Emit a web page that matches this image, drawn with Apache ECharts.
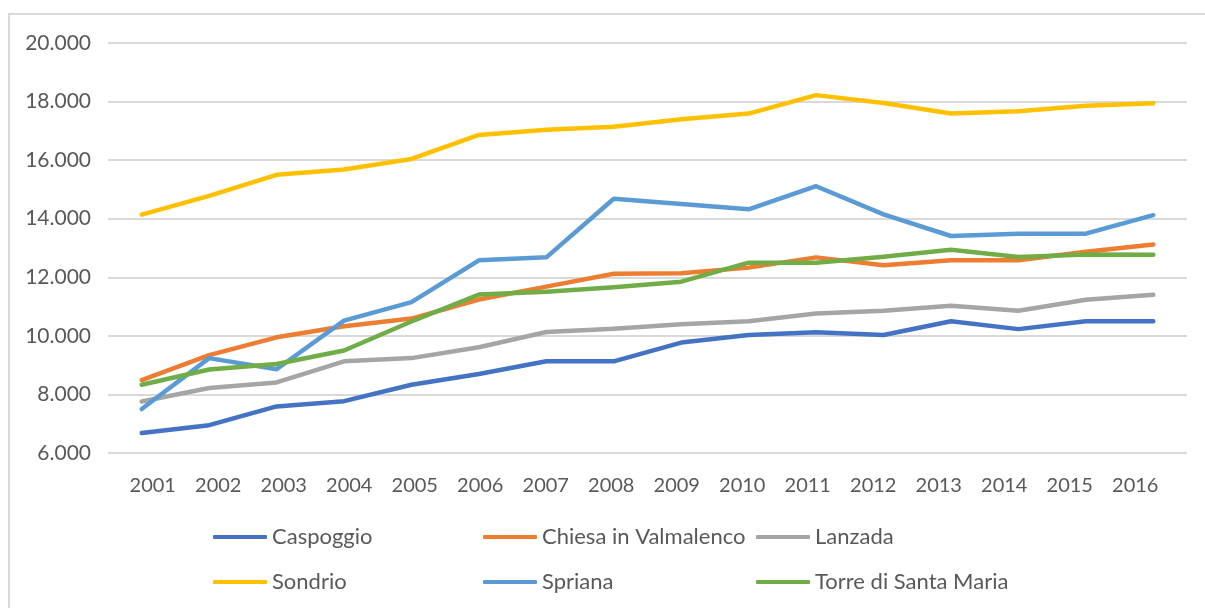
<!DOCTYPE html>
<html>
<head>
<meta charset="utf-8">
<script src="https://cdn.jsdelivr.net/npm/echarts@6/dist/echarts.min.js"></script>
<style>
html,body{margin:0;padding:0;background:#fff;}
#chart{width:1205px;height:608px;}
</style>
</head>
<body>
<div id="chart"></div>
<script>
const years = ['2001','2002','2003','2004','2005','2006','2007','2008','2009','2010','2011','2012','2013','2014','2015','2016'];
const caspoggio = [6680,6950,7590,7770,8330,8700,9130,9130,9770,10030,10120,10030,10500,10230,10500,10500];
const chiesa    = [8490,9340,9950,10330,10590,11240,11680,12120,12140,12330,12680,12410,12580,12580,12870,13120];
const lanzada   = [7760,8220,8410,9130,9240,9610,10130,10240,10400,10500,10760,10860,11030,10860,11230,11400];
const sondrio   = [14140,14780,15500,15680,16040,16860,17040,17140,17400,17590,18220,17950,17590,17670,17860,17940];
const spriana   = [7500,9240,8860,10520,11150,12580,12680,14680,14500,14320,15110,14150,13410,13490,13490,14120];
const torre     = [8330,8850,9040,9500,10490,11410,11510,11660,11850,12500,12500,12700,12940,12690,12780,12770];
const seriesNames = ['Caspoggio','Chiesa in Valmalenco','Lanzada','Sondrio','Spriana','Torre di Santa Maria'];
const seriesData = [caspoggio, chiesa, lanzada, sondrio, spriana, torre];
const colors = ['#4472C4','#ED7D31','#A5A5A5','#FFC000','#5B9BD5','#70AD47'];
const yTicks = ['6.000','8.000','10.000','12.000','14.000','16.000','18.000','20.000'];

const FONT = 'Lato, "Open Sans", sans-serif';
const TEXT = '#595959';

// legend placement (icon left, legend top, text padding top/bottom)
const legendPos = [
  {left: 213, top: 526, pad: [9, 0, 5, 0]},
  {left: 483, top: 526, pad: [4, 0, 10, 0]},
  {left: 756, top: 526, pad: [4, 0, 10, 0]},
  {left: 213, top: 571, pad: [6, 0, 8, 0]},
  {left: 483, top: 571, pad: [1, 0, 13, 0]},
  {left: 756, top: 571, pad: [1, 0, 13, 0]}
];

const chart = echarts.init(document.getElementById('chart'), null, {renderer: 'canvas'});
chart.setOption({
  animation: false,
  color: colors,
  graphic: [{
    type: 'rect',
    shape: {x: 9, y: 14, width: 1400, height: 900},
    style: {fill: 'none', stroke: '#D9D9D9', lineWidth: 2},
    silent: true
  }],
  grid: [
    {left: 108, right: 18, top: 43, bottom: 155, containLabel: false},
    {left: 120, right: 37, top: 43, bottom: 155, containLabel: false}
  ],
  legend: seriesNames.map((n, i) => ({
    data: [n],
    left: legendPos[i].left,
    top: legendPos[i].top,
    icon: 'roundRect',
    itemWidth: 54,
    itemHeight: 4,
    padding: 0,
    textStyle: {color: TEXT, fontFamily: FONT, fontSize: 22, padding: legendPos[i].pad}
  })),
  xAxis: [{
    type: 'category',
    gridIndex: 0,
    data: years,
    boundaryGap: true,
    axisLine: {show: false},
    axisTick: {show: false},
    axisLabel: {show: false}
  }, {
    type: 'category',
    gridIndex: 1,
    data: years,
    boundaryGap: true,
    axisLine: {show: false},
    axisTick: {show: false},
    splitLine: {show: false},
    axisLabel: {color: TEXT, fontFamily: FONT, fontSize: 20, margin: 23}
  }],
  yAxis: [{
    type: 'value',
    gridIndex: 0,
    min: 6000,
    max: 20000,
    interval: 2000,
    axisLine: {show: false},
    axisTick: {show: false},
    splitLine: {lineStyle: {color: '#D9D9D9', width: 2}},
    axisLabel: {
      color: TEXT, fontFamily: FONT, fontSize: 21, margin: 17,
      formatter: v => yTicks[Math.round((v - 6000) / 2000)]
    }
  }, {
    type: 'value',
    gridIndex: 1,
    min: 6000,
    max: 20000,
    interval: 2000,
    show: false,
    splitLine: {show: false}
  }],
  series: seriesNames.map((n, i) => ({
    name: n,
    type: 'line',
    xAxisIndex: 0,
    yAxisIndex: 0,
    data: seriesData[i],
    symbol: 'none',
    lineStyle: {width: 4.5, color: colors[i], cap: 'round', join: 'round'},
    itemStyle: {color: colors[i]}
  }))
});
</script>
</body>
</html>
